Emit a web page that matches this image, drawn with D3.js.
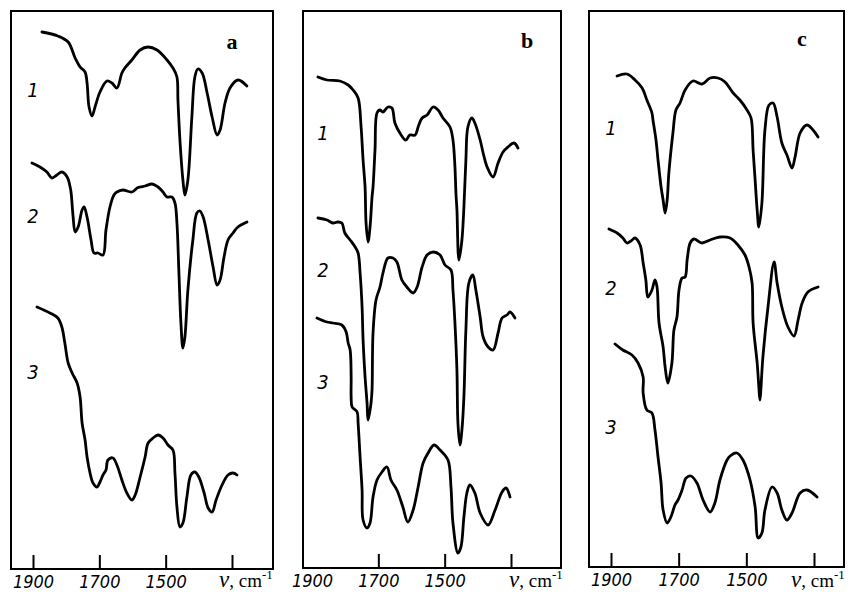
<!DOCTYPE html>
<html>
<head>
<meta charset="utf-8">
<script src="https://cdnjs.cloudflare.com/ajax/libs/d3/7.8.5/d3.min.js"></script>
<style>
  body { margin: 0; background: #fff; }
  .num { font-family: "DejaVu Sans Condensed", "DejaVu Sans", sans-serif; font-stretch: condensed; font-style: italic; }
</style>
</head>
<body>
<svg id="chart" width="854" height="595"></svg>
<script>
// wavenumber ticks (cm-1) and labels
const tickValues = [1900, 1700, 1500, 1300];
const panelLetters = ["a", "b", "c"];
const curveNumbers = ["1", "2", "3"];

// spectra: [wavenumber, relative transmittance]
const specA1 = [[1873,107.2],[1825,106.4],[1794,105.2],[1773,102],[1758,100.2],[1743,99.2],[1737,97],[1731,92.2],[1722,90.4],[1713,92.2],[1698,95.2],[1677,97.4],[1662,97],[1647,96],[1632,99],[1623,100],[1602,101.6],[1577,103.6],[1553,104.2],[1526,103.6],[1496,101.6],[1478,100],[1466,98.2],[1463,93.6],[1457,85.6],[1448,77.6],[1442,74.6],[1433,77.6],[1421,90.2],[1412,98.2],[1403,99.8],[1390,99],[1375,95],[1360,90.2],[1345,86.6],[1336,87.6],[1321,93],[1306,96],[1282,97.6],[1255,96.4]];
const specA2 = [[1903,81],[1879,80.2],[1858,79.2],[1843,78],[1828,78.6],[1813,79.2],[1797,78.2],[1788,76.2],[1785,75],[1779,70.2],[1773,67.2],[1764,68.2],[1752,71.6],[1746,72.2],[1737,70.2],[1725,65.6],[1716,63],[1704,63],[1689,62.6],[1680,67.6],[1668,72.2],[1656,74.6],[1647,75.2],[1629,75.6],[1602,75.2],[1586,76],[1577,76.2],[1562,76.4],[1541,76.8],[1523,76.2],[1508,75.2],[1496,74.2],[1481,74.2],[1472,73],[1466,69],[1460,59],[1454,49],[1448,44],[1442,46.2],[1433,55.6],[1418,65.6],[1406,71],[1397,71.4],[1387,70.2],[1372,65.6],[1357,60.2],[1345,56.6],[1336,57.6],[1324,62.2],[1312,65.6],[1297,67],[1282,68.2],[1255,69.2]];
const specA3 = [[1888,52.2],[1849,51],[1825,50],[1813,48.2],[1804,45],[1794,41],[1782,39],[1767,37],[1758,34.2],[1752,29],[1743,25.6],[1737,22.2],[1728,19],[1719,17],[1707,16.2],[1698,17.2],[1689,18.6],[1680,19.6],[1674,21.6],[1659,22],[1647,20.6],[1632,17.6],[1617,15],[1602,13.6],[1592,14.6],[1577,18.2],[1562,22.2],[1553,25],[1538,26],[1523,26.6],[1508,26],[1493,24.6],[1478,23.6],[1472,19],[1466,12.2],[1457,8.2],[1448,9],[1436,14.2],[1424,18.6],[1412,19.2],[1400,18.2],[1384,15],[1372,12],[1360,11.2],[1348,13.6],[1330,16.6],[1312,18.6],[1297,19],[1285,18.6]];

const specB1 = [[1882,98.2],[1855,97.6],[1816,97.4],[1791,96.6],[1776,95.6],[1761,94],[1752,88.2],[1746,81.6],[1740,76.2],[1737,69],[1731,65.2],[1725,68.2],[1719,74.2],[1716,76.2],[1710,83.6],[1704,91],[1695,91.6],[1686,91.2],[1671,92.2],[1659,92],[1650,89],[1635,87],[1617,85.6],[1605,86.6],[1589,86.6],[1580,88.2],[1568,90],[1553,90.6],[1535,92.2],[1520,91.6],[1505,90],[1484,88.2],[1475,85.6],[1469,80.2],[1466,75],[1463,71.6],[1457,61.6],[1448,65.6],[1442,72.2],[1436,81.6],[1430,88.2],[1418,90],[1409,89],[1393,85.6],[1384,83],[1372,80.2],[1354,78.2],[1339,81],[1324,83.2],[1309,84.2],[1291,85],[1279,84]];
const specB2 = [[1882,70],[1855,69.6],[1837,69],[1822,69.2],[1810,69],[1801,67],[1785,65.6],[1770,64.2],[1761,63],[1755,59],[1749,52.2],[1746,45.6],[1740,38.2],[1734,33],[1731,29.6],[1722,33],[1719,35.6],[1716,47],[1707,53.6],[1695,56.2],[1686,59],[1671,62],[1656,62],[1644,61.2],[1629,57.6],[1614,56.2],[1595,55],[1583,56.2],[1568,60.2],[1553,62.6],[1535,63.2],[1514,62.6],[1499,60.6],[1481,59.6],[1475,55.6],[1469,49],[1463,39.6],[1460,29],[1454,24.6],[1448,27.6],[1442,34.2],[1436,47.6],[1427,57],[1415,58.6],[1406,55.6],[1393,50.2],[1384,46.2],[1369,44.2],[1354,43.6],[1339,47],[1327,50],[1312,50.6],[1303,51.2],[1288,50]];
const specB3 = [[1885,50],[1855,49.2],[1837,49],[1810,48.6],[1797,47.2],[1791,45],[1785,43.6],[1782,38.2],[1782,34.2],[1779,32.2],[1764,31.2],[1761,29],[1755,22.2],[1749,15.6],[1746,9.6],[1734,8],[1725,9],[1716,14.2],[1704,17.6],[1689,19.2],[1674,20.2],[1662,17.6],[1644,15.6],[1626,12.2],[1611,9.2],[1595,11.6],[1580,16.2],[1565,21],[1550,23],[1532,24.6],[1514,23.6],[1490,21.6],[1481,16.2],[1475,9],[1460,3],[1451,4.2],[1442,10.2],[1433,15],[1424,16.6],[1409,15],[1393,11],[1369,8.6],[1348,11.6],[1327,15.2],[1315,16],[1303,14.2]];

const specC1 = [[1882,98.4],[1853,98.8],[1829,97.6],[1808,96],[1794,93.6],[1779,91],[1776,89.6],[1767,85.6],[1761,81.6],[1752,76.2],[1746,73.6],[1740,71],[1734,73.6],[1729,79],[1717,87],[1708,91.6],[1696,93],[1681,95.6],[1658,97.4],[1631,96.8],[1607,98],[1584,98],[1563,97.2],[1539,95],[1519,93.6],[1498,91.6],[1486,90],[1480,83.6],[1474,77.6],[1468,71.6],[1463,68.2],[1454,73],[1445,87.6],[1433,92.6],[1421,93],[1409,90.2],[1395,85],[1380,82.6],[1365,80],[1356,82.2],[1341,87],[1321,88.6],[1303,87.6],[1288,86.2]];
const specC2 = [[1906,67.8],[1882,67],[1865,66],[1853,65],[1841,65.4],[1829,66],[1814,64.6],[1805,61],[1797,57.6],[1791,54.2],[1779,55.6],[1770,57.6],[1764,56.2],[1758,49],[1746,44.2],[1740,40.2],[1732,37],[1720,41],[1714,47.6],[1705,50.2],[1699,55.6],[1690,58],[1681,58.2],[1675,61.6],[1666,65],[1655,65.8],[1631,65],[1607,65.6],[1578,66.2],[1548,66],[1525,64.6],[1504,62.6],[1492,60.2],[1483,57],[1480,49],[1468,41],[1463,36.2],[1460,33.6],[1451,42.2],[1436,52.2],[1418,61.2],[1409,57],[1395,52.2],[1377,48.2],[1359,46.4],[1347,49.6],[1335,53],[1318,55.2],[1288,56.2]];
const specC3 = [[1888,44.8],[1865,43.6],[1838,42.6],[1820,41],[1805,38.2],[1805,35],[1794,31.6],[1779,31],[1770,27.6],[1761,22.2],[1752,17],[1746,11.6],[1734,9],[1723,10.2],[1711,12.6],[1702,13.6],[1690,15.6],[1678,18],[1664,18.4],[1646,17],[1628,13.6],[1607,11.2],[1593,13],[1578,17.6],[1557,21.6],[1548,22.4],[1528,23],[1510,21.6],[1489,17.6],[1474,12.2],[1465,6],[1454,7],[1445,11.6],[1424,16.2],[1409,15],[1395,11.6],[1380,9.6],[1365,11],[1341,15],[1321,15.6],[1291,14.2]];

const svg = d3.select("#chart");

const panels = [
  { left: 11, right: 273, top: 11, bottom: 569, x1900: 33, x1300: 232,
    spectra: [specA1, specA2, specA3], numX: 33, numY: [90, 216, 372],
    letterPos: [232, 41], unitX: 219, noTick: [] },
  { left: 303, right: 561, top: 11, bottom: 568, x1900: 312, x1300: 511,
    spectra: [specB1, specB2, specB3], numX: 323, numY: [133, 270, 382],
    letterPos: [527, 40], unitX: 509, noTick: [1900] },
  { left: 589, right: 844, top: 11, bottom: 567, x1900: 611, x1300: 814,
    spectra: [specC1, specC2, specC3], numX: 611, numY: [128, 288, 427],
    letterPos: [802, 38], unitX: 791, noTick: [] }
];

const y = d3.scaleLinear().domain([0, 112]).range([568, 8]);

panels.forEach((p, i) => {
  const x = d3.scaleLinear().domain([1900, 1300]).range([p.x1900, p.x1300]);
  const g = svg.append("g");

  g.append("rect")
    .attr("x", p.left).attr("y", p.top)
    .attr("width", p.right - p.left).attr("height", p.bottom - p.top)
    .attr("fill", "none").attr("stroke", "#000").attr("stroke-width", 2);

  const axis = g.append("g")
    .attr("transform", `translate(0,${p.bottom})`)
    .call(d3.axisBottom(x)
      .tickValues(tickValues)
      .tickSizeInner(-14).tickSizeOuter(0).tickPadding(6)
      .tickFormat(d => d === 1300 ? "" : d));
  axis.select(".domain").remove();
  axis.selectAll(".tick line").attr("stroke-width", 2);
  axis.selectAll(".tick").filter(d => p.noTick.includes(d)).select("line").remove();
  axis.selectAll(".tick text")
    .attr("class", "num")
    .attr("font-size", 18)
    .attr("fill", "#000");

  // unit label
  const unit = g.append("text")
    .attr("x", p.unitX).attr("y", 587)
    .attr("font-family", "'Liberation Serif', 'DejaVu Serif', serif")
    .attr("font-size", 19);
  unit.append("tspan").attr("font-style", "italic").attr("font-size", 23).text("ν");
  unit.append("tspan").text(", cm");
  unit.append("tspan").attr("font-size", 13).attr("dy", -8).text("-1");

  const line = d3.line()
    .x(d => x(d[0]))
    .y(d => y(d[1]))
    .curve(d3.curveCatmullRom.alpha(0.5));

  g.selectAll("path.spec")
    .data(p.spectra)
    .enter()
    .append("path")
    .attr("class", "spec")
    .attr("d", line)
    .attr("fill", "none")
    .attr("stroke", "#000")
    .attr("stroke-width", 2.8)
    .attr("stroke-linejoin", "round")
    .attr("stroke-linecap", "round");

  g.selectAll("text.cn")
    .data(curveNumbers)
    .enter()
    .append("text")
    .attr("class", "cn num")
    .attr("x", p.numX)
    .attr("y", (d, k) => p.numY[k])
    .attr("dy", "0.36em")
    .attr("text-anchor", "middle")
    .attr("font-size", 20)
    .text(d => d);

  g.append("text")
    .attr("x", p.letterPos[0]).attr("y", p.letterPos[1])
    .attr("dy", "0.35em")
    .attr("text-anchor", "middle")
    .attr("font-family", "'Liberation Serif', 'DejaVu Serif', serif")
    .attr("font-weight", "bold")
    .attr("font-size", 22)
    .text(panelLetters[i]);
});
</script>
</body>
</html>
